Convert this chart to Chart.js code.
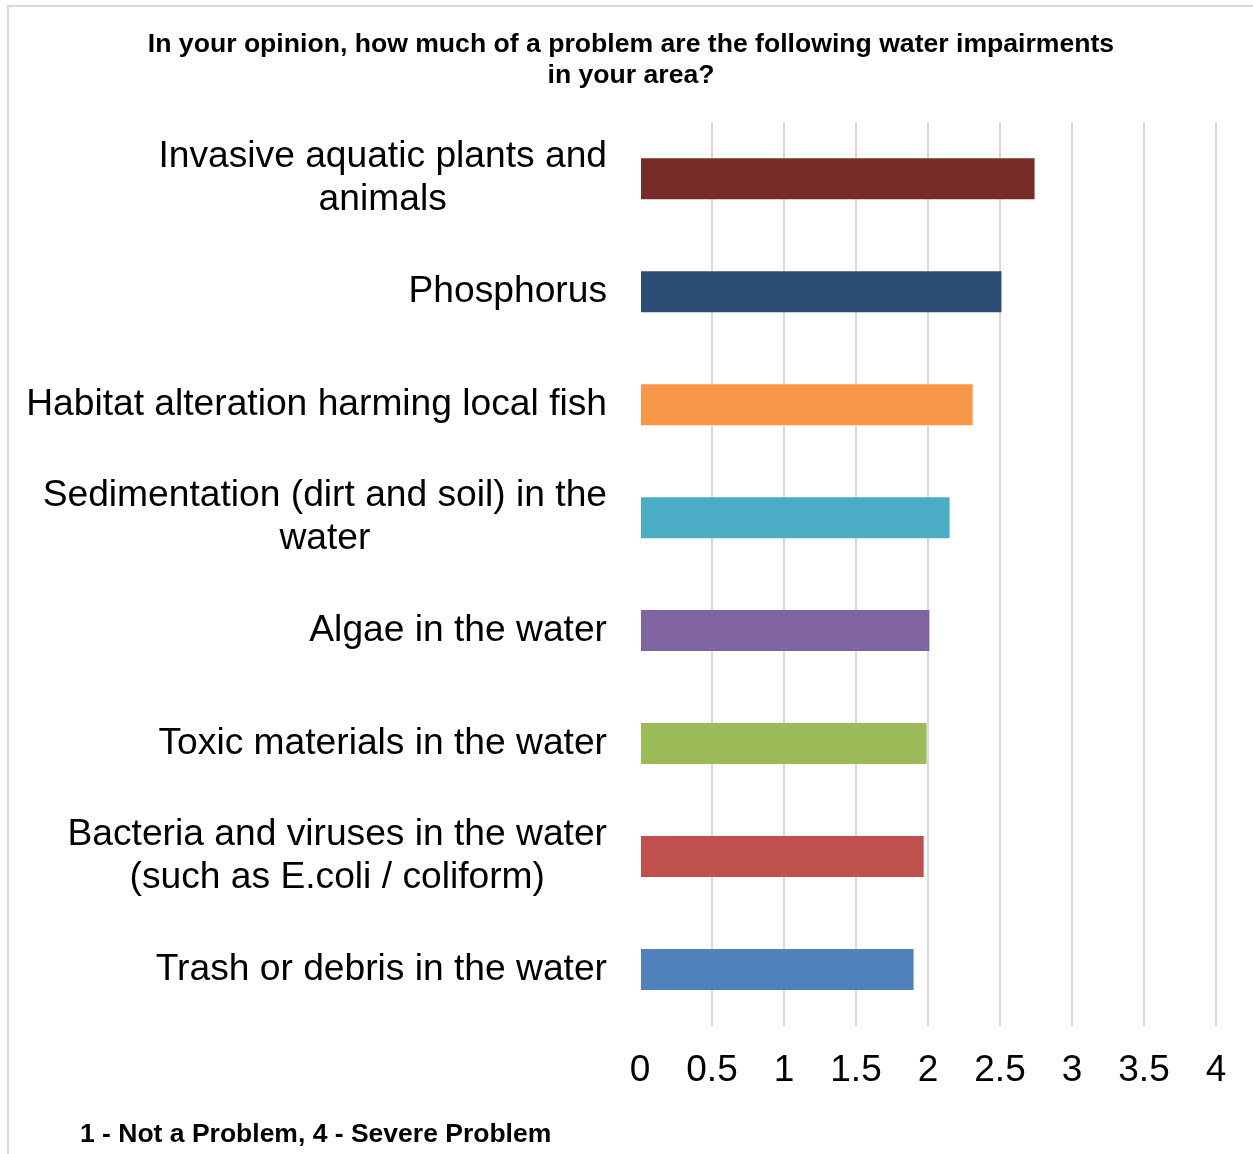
<!DOCTYPE html>
<html>
<head>
<meta charset="utf-8">
<script src="https://cdn.jsdelivr.net/npm/chart.js@4"></script>
<style>
  html, body { margin: 0; padding: 0; background: #ffffff; }
  canvas { display: block; }
</style>
</head>
<body>
<canvas id="chart" width="1253" height="1154"></canvas>
<script>
// Survey item labels (each entry is a list of lines)
const categories = [
  ["Invasive aquatic plants and", "animals"],
  ["Phosphorus"],
  ["Habitat alteration harming local fish"],
  ["Sedimentation (dirt and soil) in the", "water"],
  ["Algae in the water"],
  ["Toxic materials in the water"],
  ["Bacteria and viruses in the water", "(such as E.coli / coliform)"],
  ["Trash or debris in the water"]
];

// Mean rating (1 - Not a Problem, 4 - Severe Problem)
const meanRatings = [2.74, 2.51, 2.31, 2.15, 2.01, 1.99, 1.97, 1.90];

const barColors = [
  "#772C2A", "#2C4D75", "#F79646", "#4BACC6",
  "#8064A2", "#9BBB59", "#C0504D", "#4F81BD"
];

const axisMin = 0;
const axisMax = 4;
const axisStep = 0.5;

const chartTitle = [
  "In your opinion, how much of a problem are the following water impairments",
  "in your area?"
];
const footnote = "1 - Not a Problem, 4 - Severe Problem";

const FONT = "'Liberation Sans', Arial, Helvetica, sans-serif";

// Light frame around the chart
const framePlugin = {
  id: "frame",
  beforeDraw(chart) {
    const ctx = chart.ctx;
    ctx.save();
    ctx.fillStyle = "#ffffff";
    ctx.fillRect(0, 0, chart.width, chart.height);
    ctx.strokeStyle = "#d9d9d9";
    ctx.lineWidth = 2;
    ctx.beginPath();
    ctx.moveTo(8, chart.height);
    ctx.lineTo(8, 6);
    ctx.lineTo(chart.width, 6);
    ctx.stroke();
    ctx.restore();
  }
};

// Category labels: block right-aligned against the axis, lines centred within the block
const categoryLabelPlugin = {
  id: "categoryLabels",
  afterDraw(chart) {
    const ctx = chart.ctx;
    const yScale = chart.scales.y;
    const size = 37.2;
    const lineH = 43;
    const rightEdge = yScale.right - 33;
    ctx.save();
    ctx.font = size + "px " + FONT;
    ctx.fillStyle = "#000000";
    ctx.textAlign = "center";
    ctx.textBaseline = "middle";
    chart.data.labels.forEach((lines, i) => {
      const yc = yScale.getPixelForTick(i);
      const w = Math.max(...lines.map(l => ctx.measureText(l).width));
      const xc = rightEdge - w / 2;
      const y0 = yc - (lines.length - 1) * lineH / 2;
      lines.forEach((l, k) => ctx.fillText(l, xc, y0 + k * lineH));
    });
    ctx.restore();
  }
};

// Scale legend under the chart
const footnotePlugin = {
  id: "footnote",
  afterDraw(chart) {
    const ctx = chart.ctx;
    ctx.save();
    ctx.font = "bold 26.5px " + FONT;
    ctx.fillStyle = "#000000";
    ctx.textAlign = "left";
    ctx.textBaseline = "middle";
    ctx.fillText(footnote, 80, 1135);
    ctx.restore();
  }
};

new Chart(document.getElementById("chart"), {
  type: "bar",
  data: {
    labels: categories,
    datasets: [{
      data: meanRatings,
      backgroundColor: barColors,
      borderWidth: 0,
      categoryPercentage: 1.0,
      barPercentage: 0.363
    }]
  },
  options: {
    indexAxis: "y",
    responsive: false,
    animation: false,
    devicePixelRatio: 1,
    layout: { padding: { left: 46, right: 37, top: 0, bottom: 0 } },
    plugins: {
      legend: { display: false },
      tooltip: { enabled: false },
      title: {
        display: true,
        text: chartTitle,
        color: "#000000",
        font: { family: FONT, size: 26.6, weight: "bold", lineHeight: 1.17 },
        padding: { top: 29, bottom: 31 }
      }
    },
    scales: {
      x: {
        min: axisMin,
        max: axisMax,
        border: { display: false },
        grid: {
          color: ctx => (ctx.tick && ctx.tick.value === axisMin) ? "rgba(0,0,0,0)" : "#d9d9d9",
          lineWidth: 2,
          drawTicks: false
        },
        ticks: {
          stepSize: axisStep,
          color: "#000000",
          padding: 23,
          font: { family: FONT, size: 37 },
          maxRotation: 0,
          callback: value => String(Number(value))
        },
        afterFit(scale) { scale.height = 128; }
      },
      y: {
        border: { display: false },
        grid: { display: false, drawTicks: false },
        ticks: { display: false },
        afterFit(scale) { scale.width = 594; }
      }
    }
  },
  plugins: [framePlugin, categoryLabelPlugin, footnotePlugin]
});
</script>
</body>
</html>
